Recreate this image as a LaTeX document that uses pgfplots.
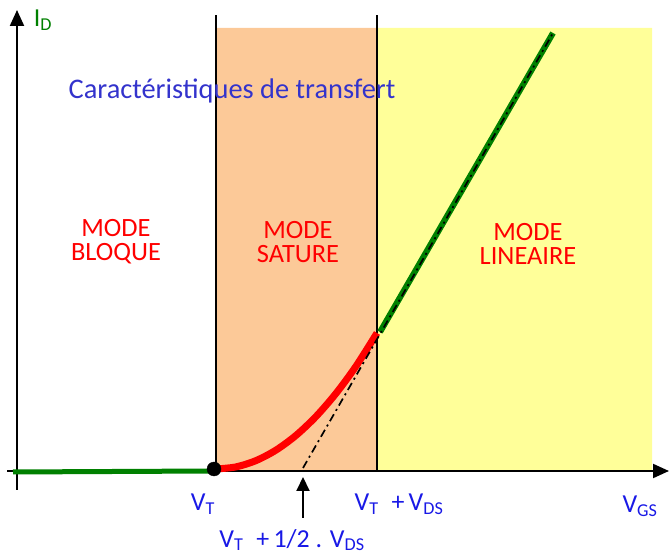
\documentclass[border=0pt]{standalone}
\usepackage{pgfplots}
\pgfplotsset{compat=1.18}
\usepackage{fontspec}
\setmainfont{Carlito}
\usetikzlibrary{arrows.meta}
\definecolor{orfill}{RGB}{252,201,152}
\definecolor{yefill}{RGB}{255,255,153}
\definecolor{tblue}{RGB}{51,51,204}
\definecolor{lblue}{RGB}{25,25,230}
\definecolor{dgreen}{RGB}{0,128,0}
\begin{document}
\begin{tikzpicture}
\begin{axis}[name=ax, hide axis, scale only axis, width=671bp, height=554bp,
  xmin=0, xmax=671, ymin=0, ymax=554, clip=false]
% regions
\addplot[fill=orfill, draw=none] coordinates {(215,84) (377,84) (377,526) (215,526) (215,84)};
\addplot[fill=yefill, draw=none] coordinates {(377,84) (652,84) (652,526) (377,526) (377,84)};
% vertical boundaries
\addplot[black, line width=2bp] coordinates {(216,84) (216,539)};
\addplot[black, line width=2bp] coordinates {(377,84) (377,539)};
% axes
\addplot[black, line width=2bp, -{Triangle[length=16bp,width=14bp]}] coordinates {(17,64) (17,544)};
\addplot[black, line width=2bp, -{Triangle[length=16bp,width=14bp]}] coordinates {(7,83) (669,83)};
% blocked region
\addplot[dgreen, line width=5bp] coordinates {(13,82) (212,83)};
% saturation parabola
\addplot[red, line width=7bp, smooth] coordinates {(216,85) (236,87.1) (256,93.4) (276,103.9) (296,118.6) (316,137.5) (336,160.6) (356,187.8) (377,221)};
% linear region
\addplot[dgreen, line width=6bp] coordinates {(380,222) (553,521)};
% tangent dash-dot
\addplot[black, line width=1.7bp, dash pattern=on 8bp off 4bp on 2bp off 4bp] coordinates {(303,86) (553,521)};
% V_T point
\addplot[only marks, mark=*, mark size=7bp, black] coordinates {(214,85)};
% arrow to V_T + 1/2 V_DS
\addplot[black, line width=2bp, -{Triangle[length=14bp,width=13bp]}] coordinates {(303,36) (303,77)};
% texts
\node[text=dgreen, font=\fontsize{26}{28}\selectfont] at (axis cs:43,534) {I\textsubscript{D}};
\node[text=tblue, font=\fontsize{28.5}{30}\selectfont] at (axis cs:232,463) {Caractéristiques de transfert};
\node[text=red, font=\fontsize{26.5}{24}\selectfont, align=center] at (axis cs:116,312) {MODE\\BLOQUE};
\node[text=red, font=\fontsize{26.5}{24}\selectfont, align=center] at (axis cs:298,312) {MODE\\SATURE};
\node[text=red, font=\fontsize{26.5}{24}\selectfont, align=center] at (axis cs:528,310) {MODE\\LINEAIRE};
\node[text=lblue, font=\fontsize{26}{28}\selectfont] at (axis cs:203,50) {V\textsubscript{T}};
\node[text=lblue, font=\fontsize{26}{28}\selectfont] at (axis cs:399,50) {V\textsubscript{T}\enspace+\,V\textsubscript{DS}};
\node[text=lblue, font=\fontsize{26}{28}\selectfont] at (axis cs:640,48) {V\textsubscript{GS}};
\node[text=lblue, font=\fontsize{26}{28}\selectfont] at (axis cs:292,14) {V\textsubscript{T}\enspace+\,1/2 . V\textsubscript{DS}};
\end{axis}
\pgfresetboundingbox
\path (ax.south west) rectangle (ax.north east);
\end{tikzpicture}
\end{document}
